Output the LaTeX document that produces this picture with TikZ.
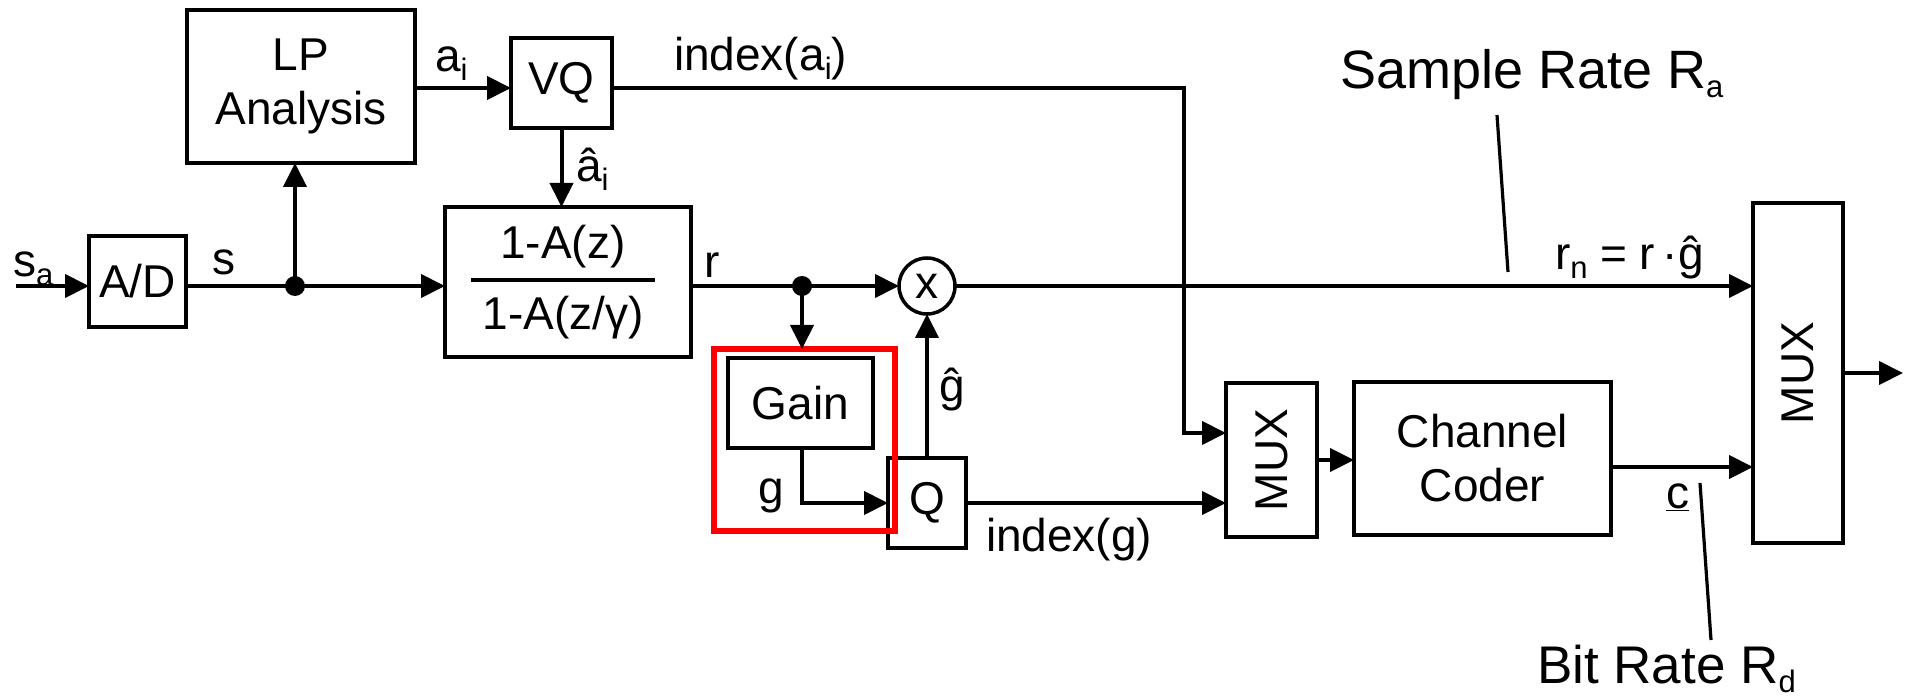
\documentclass[tikz,border=0pt]{standalone}
\usepackage{fontspec}
\setmainfont{Liberation Sans}
\usetikzlibrary{arrows.meta}
\newcommand\sbs[1]{\raisebox{-9pt}{\fontsize{31}{31}\selectfont #1}}
\begin{document}
\begin{tikzpicture}[x=1pt,y=-1pt,
  every node/.style={font=\fontsize{46}{54}\selectfont, inner sep=0pt, outer sep=0pt},
  blk/.style={draw, line width=4pt, rectangle},
  arr/.style={line width=4pt, -{Triangle[length=24pt,width=23pt]}},
  wire/.style={line width=4pt},
  lbl/.style={anchor=base west},
  big/.style={anchor=base west, font=\fontsize{54}{60}\selectfont},
  thin/.style={line width=3.2pt}]
\useasboundingbox (0,0) rectangle (1909,700);
% blocks
\node[blk, minimum width=97pt, minimum height=91pt] (AD) at (137.5,281.5) {A/D};
\node[blk, minimum width=228pt, minimum height=153pt, align=center] (LP) at (301,86.5) {LP\\Analysis};
\node[blk, minimum width=101pt, minimum height=90pt] (VQ) at (561.5,83) {VQ};
\node[blk, minimum width=246pt, minimum height=150pt] (FLT) at (568,282) {};
\node (num) at (563,247) {1-A(z)};
\node (den) at (563,318) {1-A(z/γ)};
\draw[wire] (471,280) -- (655,280);
\node[blk, minimum width=145pt, minimum height=90pt] (Gain) at (800.5,403) {Gain};
\node[blk, minimum width=78pt, minimum height=90pt] (Q) at (927,503) {Q};
\node[draw=red, line width=6pt, minimum width=181pt, minimum height=182pt] (RB) at (804.5,440) {};
\node[draw, circle, line width=3.5pt, minimum size=56pt] (X) at (927,286) {x};
\node[blk, minimum width=91pt, minimum height=154pt] (M1) at (1271.5,460) {};
\node[rotate=90] (M1t) at (M1) {MUX};
\node[blk, minimum width=257pt, minimum height=153pt, align=center] (CC) at (1482.5,458.5) {Channel\\Coder};
\node[blk, minimum width=90pt, minimum height=340pt] (M2) at (1798,373) {};
\node[rotate=90] (M2t) at (M2) {MUX};
% coordinates
\coordinate (in) at (16,286);
\coordinate (j1) at (295,286);
\coordinate (j2) at (802,286);
\coordinate (va) at (511,88);
\coordinate (c1) at (1184,88);
\coordinate (c2) at (1184,433);
\coordinate (co) at (1611,467);
\coordinate (out) at (1903,373);
% connectors
\draw[arr] (in) -- (in-|AD.west);
\draw[arr] (AD.east|-j1) -- (FLT.west|-j1);
\draw[arr] (j1) -- (LP.south-|j1);
\fill (j1) circle (10pt);
\draw[arr] (LP.east|-va) -- (va);
\draw[arr] (VQ.south) -- (VQ.south|-FLT.north);
\draw[wire] (FLT.east|-j2) -- (j2);
\draw[arr] (j2) -- (X.west);
\fill (j2) circle (10pt);
\draw[arr] (j2) -- (j2|-RB.north);
\draw[arr] (Gain.south-|j2) |- (Q.west);
\draw[arr] (Q.north) -- (X.south);
\draw[arr] (X.east) -- (X.east-|M2.west);
\draw[arr] (VQ.east|-c1) -- (c1) -- (c2) -- (c2-|M1.west);
\draw[arr] (Q.east) -- (Q.east-|M1.west);
\draw[arr] (M1.east) -- (M1.east-|CC.west);
\draw[arr] (CC.east|-co) -- (co-|M2.west);
\draw[arr] (M2.east|-out) -- (out);
% annotation lines
\coordinate (sa1) at (1497,115);
\coordinate (sa2) at (1508,272);
\coordinate (bd1) at (1700,483);
\coordinate (bd2) at (1711,640);
\draw[thin] (sa1) -- (sa2);
\draw[thin] (bd1) -- (bd2);
% labels
\node[lbl] (ls) at (13,277) {s\sbs{a}};
\node[lbl] (lss) at (212,275) {s};
\node[lbl] (lai) at (435,72) {a\sbs{i}};
\node[lbl] (lah) at (576,182) {â\sbs{i}};
\node[lbl] (lidx) at (674,71) {index(a\sbs{i})};
\node[lbl] (lr) at (704,278) {r};
\node[lbl] (lgh) at (939,402) {ĝ};
\node[lbl] (lg) at (758,503) {g};
\node[lbl] (lidg) at (986,551) {index(g)};
\node[lbl] (lrn) at (1555,270) {r\sbs{n} = r\,·ĝ};
\node[lbl] (lc) at (1666,508) {\underline{c}};
\node[big] (lsr) at (1340,89) {Sample Rate R\sbs{a}};
\node[big, font=\fontsize{53}{58}\selectfont] (lbr) at (1537,683) {Bit Rate R\sbs{d}};
\end{tikzpicture}
\end{document}
